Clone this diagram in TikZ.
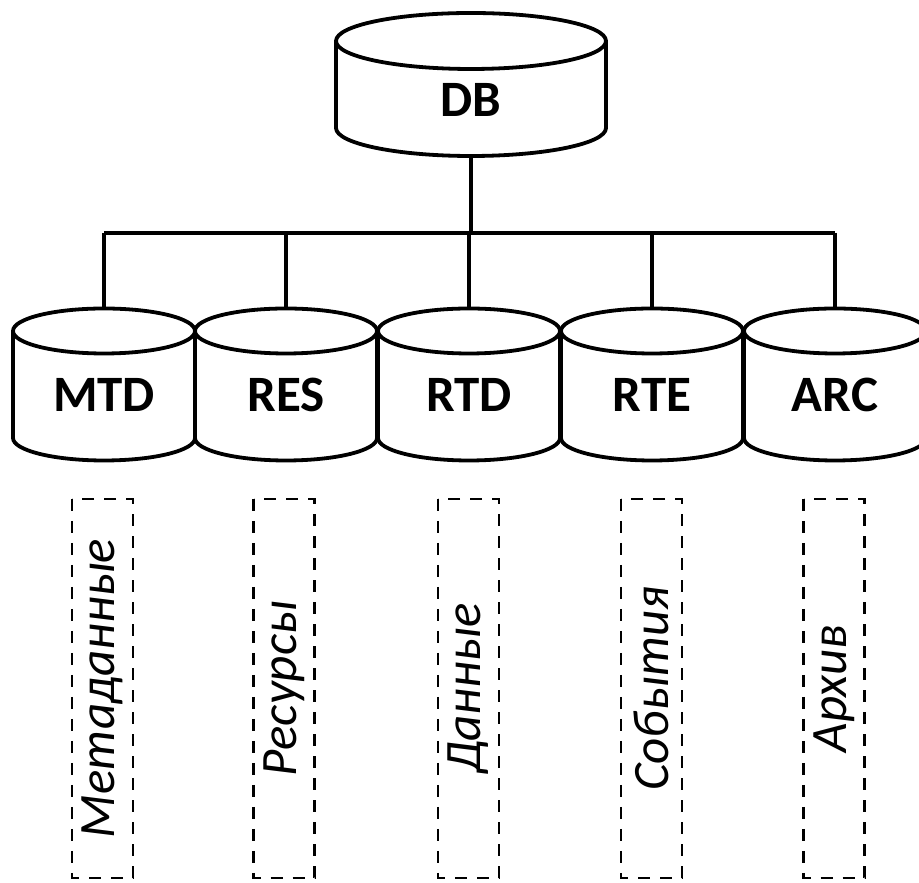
\documentclass[tikz,border=0pt]{standalone}
\usepackage{fontspec}
\setmainfont{Carlito}
\newcommand\mycyl[6]{% name, cx, ytop, ybot, rx, ry
  \fill[white] (#2-#5,#3) -- (#2-#5,#4) arc[start angle=180,end angle=360,x radius=#5,y radius=#6] -- (#2+#5,#3) arc[start angle=0,end angle=180,x radius=#5,y radius=#6] -- cycle;
  \draw[cylline] (#2-#5,#3) -- (#2-#5,#4) arc[start angle=180,end angle=360,x radius=#5,y radius=#6] -- (#2+#5,#3);
  \draw[cylline] (#2,#3) ellipse[x radius=#5,y radius=#6];
  \coordinate (#1top) at (#2,#3+#6);
  \coordinate (#1bot) at (#2,#4-#6);
}
\tikzset{
  cylline/.style={line width=3.8pt, line join=round},
  lbl/.style={font=\fontsize{51}{60}\selectfont\bfseries, inner sep=0pt},
  conn/.style={line width=3.2pt},
  dbox/.style={draw, dash pattern=on 12pt off 10pt, line width=2.6pt, rotate=90,
    minimum width=379pt, minimum height=61pt, inner sep=0pt,
    font=\fontsize{51}{60}\selectfont\itshape}
}
\begin{document}
\begin{tikzpicture}[x=1pt,y=1pt]
\useasboundingbox (0,0) rectangle (919,883);
% top database
\mycyl{db}{471}{842}{755}{135}{28}
\node[lbl] (db) at (471,783) {DB};
% lower databases
\mycyl{mtd}{104}{552}{445}{91}{22.5}
\mycyl{res}{286}{552}{445}{91}{22.5}
\mycyl{rtd}{469}{552}{445}{91}{22.5}
\mycyl{rte}{652}{552}{445}{91}{22.5}
\mycyl{arc}{835}{552}{445}{91}{22.5}
\node[lbl] (mtd) at (104,488) {MTD};
\node[lbl] (res) at (286,488) {RES};
\node[lbl] (rtd) at (469,488) {RTD};
\node[lbl] (rte) at (652,488) {RTE};
\node[lbl] (arc) at (835,488) {ARC};
% bus
\coordinate (bus) at (471,650);
\coordinate (busL) at (104,650);
\coordinate (busR) at (835,650);
\draw[conn] (dbbot) -- (bus);
\draw[conn] (busL) -- (busR);
\foreach \n in {mtd,res,rtd,rte,arc}{
  \draw[conn] (\n top |- bus) -- (\n top);
}
% dashed descriptions
\node[dbox] (d1) at (102.5,194.5) {Метаданные};
\node[dbox] (d2) at (284,194.5) {Ресурсы};
\node[dbox] (d3) at (468.5,194.5) {Данные};
\node[dbox] (d4) at (651.5,194.5) {События};
\node[dbox] (d5) at (834,194.5) {Архив};
\end{tikzpicture}
\end{document}
